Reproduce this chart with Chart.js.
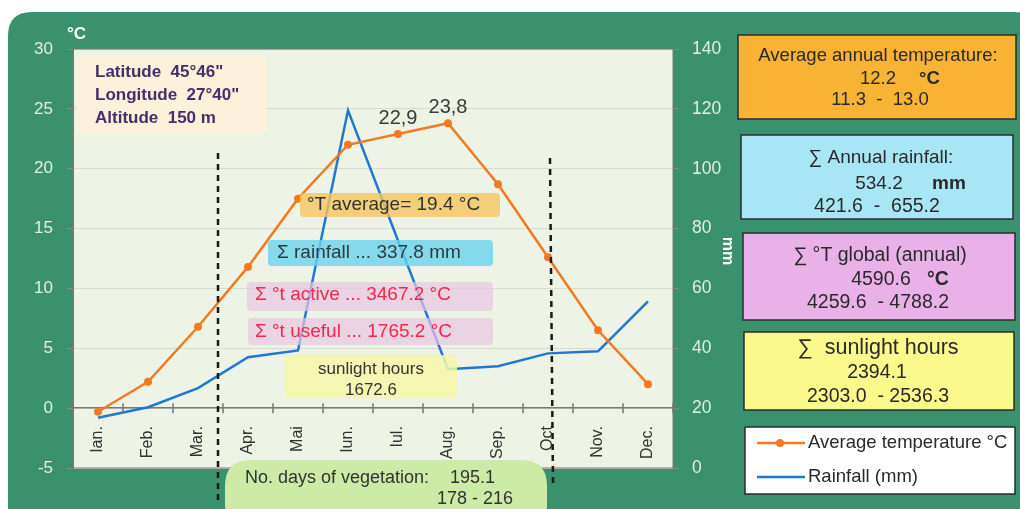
<!DOCTYPE html>
<html>
<head>
<meta charset="utf-8">
<script src="https://cdn.jsdelivr.net/npm/chart.js@4/dist/chart.umd.min.js"></script>
<style>
  html, body { margin: 0; padding: 0; background: #fff; }
  canvas { display: block; }
</style>
</head>
<body>
<canvas id="climateChart" width="1020" height="509"></canvas>
<script>
// monthly data
var months = ["Ian.", "Feb.", "Mar.", "Apr.", "Mai", "Iun.", "Iul.", "Aug.", "Sep.", "Oct", "Nov.", "Dec."];
var temperature = [-0.3, 2.2, 6.8, 11.8, 17.5, 22.0, 22.9, 23.8, 18.7, 12.6, 6.5, 2.0];
var rainfall = [16.8, 20.3, 26.7, 37.0, 39.3, 119.5, 76.0, 33.0, 34.0, 38.3, 39.0, 55.7];
var tempTicks = [-5, 0, 5, 10, 15, 20, 25, 30];
var rainTicks = [0, 20, 40, 60, 80, 100, 120, 140];
var labelledMonths = [6, 7]; // months whose temperature is printed above the point
var vegetationStart = 2.4, vegetationEnd = 9.04; // dashed limits, in month index

var FONT = "'Liberation Sans', Arial, sans-serif";

function roundRect(ctx, x, y, w, h, r) {
  ctx.beginPath();
  ctx.moveTo(x + r, y);
  ctx.lineTo(x + w - r, y);
  ctx.quadraticCurveTo(x + w, y, x + w, y + r);
  ctx.lineTo(x + w, y + h - r);
  ctx.quadraticCurveTo(x + w, y + h, x + w - r, y + h);
  ctx.lineTo(x + r, y + h);
  ctx.quadraticCurveTo(x, y + h, x, y + h - r);
  ctx.lineTo(x, y + r);
  ctx.quadraticCurveTo(x, y, x + r, y);
  ctx.closePath();
}

function text(ctx, s, x, y, opts) {
  opts = opts || {};
  ctx.font = (opts.bold ? "bold " : "") + (opts.size || 16) + "px " + FONT;
  ctx.fillStyle = opts.color || "#2a2a2a";
  ctx.textAlign = opts.align || "left";
  ctx.textBaseline = "middle";
  ctx.fillText(s, x, y);
}

var backgroundPlugin = {
  id: "background",
  beforeDraw: function (chart) {
    var ctx = chart.ctx, a = chart.chartArea;
    ctx.save();
    ctx.fillStyle = "#ffffff";
    ctx.fillRect(0, 0, chart.width, chart.height);
    ctx.fillStyle = "#3a916e";
    roundRect(ctx, 8, 12, 1030, 520, 24);
    ctx.fill();
    ctx.fillStyle = "#edf3e5";
    ctx.fillRect(a.left, a.top, a.right - a.left, a.bottom - a.top);
    ctx.restore();
  }
};

var annotationPlugin = {
  id: "annotations",
  afterDatasetsDraw: function (chart) {
    var ctx = chart.ctx, a = chart.chartArea, xs = chart.scales.x, ys = chart.scales.y;
    ctx.save();
    ctx.strokeStyle = "#6f7d72";
    ctx.lineWidth = 1;
    ctx.strokeRect(a.left, a.top, a.right - a.left, a.bottom - a.top);

    // month tick marks crossing the zero line
    var y0 = ys.getPixelForValue(0);
    ctx.strokeStyle = "#777";
    ctx.lineWidth = 1.5;
    for (var i = 0; i <= months.length; i++) {
      var tx = xs.getPixelForValue(i - 0.5);
      ctx.beginPath(); ctx.moveTo(tx, y0 - 5); ctx.lineTo(tx, y0 + 5); ctx.stroke();
    }

    // translucent boxes inside the plot
    ctx.fillStyle = "rgba(245, 196, 95, 0.8)";
    roundRect(ctx, 300, 193, 200, 24, 4); ctx.fill();
    text(ctx, "°T average= 19.4 °C", 307, 205, { size: 19, color: "#333" });

    ctx.fillStyle = "rgba(105, 210, 235, 0.8)";
    roundRect(ctx, 268, 240, 225, 26, 4); ctx.fill();
    text(ctx, "Σ rainfall ... 337.8 mm", 277, 253, { size: 19, color: "#2d3a44" });

    ctx.fillStyle = "rgba(232, 196, 226, 0.7)";
    roundRect(ctx, 247, 282, 246, 29, 4); ctx.fill();
    roundRect(ctx, 248, 318, 245, 27, 4); ctx.fill();
    text(ctx, "Σ °t active ... 3467.2 °C", 255, 295, { size: 19, color: "#f4264a" });
    text(ctx, "Σ °t useful ... 1765.2 °C", 255, 332, { size: 19, color: "#f4264a" });

    ctx.fillStyle = "rgba(246, 246, 170, 0.85)";
    roundRect(ctx, 285, 355, 172, 43, 4); ctx.fill();
    text(ctx, "sunlight hours", 371, 369, { size: 17, color: "#333", align: "center" });
    text(ctx, "1672.6", 371, 390, { size: 17, color: "#333", align: "center" });

    // info box
    ctx.fillStyle = "#fcf2dc";
    ctx.fillRect(77, 55, 190, 78);
    text(ctx, "Latitude  45°46\"", 95, 72, { size: 17, bold: true, color: "#4a2c6a" });
    text(ctx, "Longitude  27°40\"", 95, 95, { size: 17, bold: true, color: "#4a2c6a" });
    text(ctx, "Altitude  150 m", 95, 118, { size: 17, bold: true, color: "#4a2c6a" });

    // values above July and August
    var meta = chart.getDatasetMeta(0);
    labelledMonths.forEach(function (i) {
      var p = meta.data[i];
      text(ctx, String(temperature[i]).replace(".", ","), p.x, p.y - 16, { size: 20, color: "#3a3a3a", align: "center" });
    });

    // vegetation pill
    ctx.fillStyle = "#cdeaa6";
    roundRect(ctx, 225, 460, 322, 70, 26); ctx.fill();
    text(ctx, "No. days of vegetation:", 245, 478, { size: 18, color: "#333" });
    text(ctx, "195.1", 450, 478, { size: 18, color: "#333" });
    text(ctx, "178 - 216", 437, 499, { size: 18, color: "#333" });

    // dashed vegetation limits
    ctx.strokeStyle = "#1a1a1a";
    ctx.lineWidth = 2.5;
    ctx.setLineDash([6, 5]);
    var x1 = xs.getPixelForValue(vegetationStart), x2 = xs.getPixelForValue(vegetationEnd);
    ctx.beginPath(); ctx.moveTo(x1, 153); ctx.lineTo(x1, 502); ctx.stroke();
    ctx.beginPath(); ctx.moveTo(x2, 158); ctx.lineTo(x2 + 3, 484); ctx.stroke();
    ctx.setLineDash([]);
    ctx.restore();
  },
  afterDraw: function (chart) {
    var ctx = chart.ctx;
    ctx.save();
    text(ctx, "°C", 67, 34, { size: 17, bold: true, color: "#ffffff" });
    ctx.save();
    ctx.translate(727, 251);
    ctx.rotate(Math.PI / 2);
    text(ctx, "mm", 0, 0, { size: 16, bold: true, color: "#ffffff", align: "center" });
    ctx.restore();

    function box(x, y, w, h, fill) {
      ctx.fillStyle = fill;
      ctx.fillRect(x, y, w, h);
      ctx.strokeStyle = "#2c2c2c";
      ctx.lineWidth = 1.5;
      ctx.strokeRect(x, y, w, h);
    }
    box(738, 35, 278, 84, "#f8b334");
    text(ctx, "Average annual temperature:", 878, 56, { size: 18.5, align: "center" });
    text(ctx, "12.2", 878, 79, { size: 18.5, align: "center" });
    text(ctx, "°C", 919, 79, { size: 18.5, bold: true });
    text(ctx, "11.3  -  13.0", 880, 100, { size: 18.5, align: "center" });

    box(741, 135, 272, 84, "#a8e6f5");
    text(ctx, "∑ Annual rainfall:", 881, 158, { size: 19, align: "center" });
    text(ctx, "534.2", 879, 184, { size: 19, align: "center" });
    text(ctx, "mm", 932, 184, { size: 19, bold: true });
    text(ctx, "421.6  -  655.2", 877, 207, { size: 19.5, align: "center" });

    box(743, 233, 272, 87, "#e9b1e8");
    text(ctx, "∑ °T global (annual)", 880, 256, { size: 19.5, align: "center" });
    text(ctx, "4590.6", 881, 280, { size: 19.5, align: "center" });
    text(ctx, "°C", 927, 280, { size: 19.5, bold: true });
    text(ctx, "4259.6  - 4788.2", 878, 303, { size: 19.5, align: "center" });

    box(744, 332, 270, 78, "#f9f98c");
    text(ctx, "∑  sunlight hours", 878, 348, { size: 21.5, align: "center" });
    text(ctx, "2394.1", 877, 373, { size: 19.5, align: "center" });
    text(ctx, "2303.0  - 2536.3", 878, 397, { size: 19.5, align: "center" });

    // legend
    box(745, 427, 270, 67, "#ffffff");
    var ds = chart.data.datasets;
    ctx.lineWidth = 2.5;
    ctx.strokeStyle = ds[0].borderColor;
    ctx.beginPath(); ctx.moveTo(757, 443); ctx.lineTo(805, 443); ctx.stroke();
    ctx.fillStyle = ds[0].borderColor;
    ctx.beginPath(); ctx.arc(780, 443, 4, 0, Math.PI * 2); ctx.fill();
    text(ctx, ds[0].label, 808, 443, { size: 18.5 });
    ctx.strokeStyle = ds[1].borderColor;
    ctx.beginPath(); ctx.moveTo(757, 477); ctx.lineTo(805, 477); ctx.stroke();
    text(ctx, ds[1].label, 808, 477, { size: 18.5 });
    ctx.restore();
  }
};

var ctx = document.getElementById("climateChart").getContext("2d");
var climateChart = new Chart(ctx, {
  type: "line",
  data: {
    labels: months,
    datasets: [
      {
        label: "Average temperature °C",
        data: temperature,
        yAxisID: "y",
        borderColor: "#f07b24",
        backgroundColor: "#f07b24",
        borderWidth: 2.5,
        pointRadius: 4,
        pointBorderWidth: 0,
        tension: 0,
        order: 1,
      },
      {
        label: "Rainfall (mm)",
        data: rainfall,
        yAxisID: "y1",
        borderColor: "#1f78d6",
        backgroundColor: "#1f78d6",
        borderWidth: 2.5,
        pointRadius: 0,
        tension: 0,
        order: 2,
      },
    ],
  },
  options: {
    responsive: false,
    animation: false,
    layout: { padding: { left: 0, right: 0, top: 49, bottom: 41 } },
    plugins: {
      legend: { display: false },
      tooltip: { enabled: false },
    },
    scales: {
      x: {
        position: { y: 0 },
        offset: true,
        grid: { display: false },
        border: { color: "#7a7a7a", width: 1.5 },
        ticks: {
          minRotation: 90,
          maxRotation: 90,
          color: "#333",
          padding: 10,
          font: { family: FONT, size: 16 },
        },
      },
      y: {
        position: "left",
        min: -5,
        max: 30,
        afterBuildTicks: function (scale) {
          scale.ticks = tempTicks.map(function (v) { return { value: v }; });
        },
        afterFit: function (scale) { scale.width = 73; },
        grid: { color: "#d6dcd2", tickColor: "#8a8a8a", tickLength: 6 },
        border: { color: "#6f7d72" },
        ticks: { color: "#e3ede3", padding: 14, font: { family: FONT, size: 17 } },
      },
      y1: {
        position: "right",
        min: 0,
        max: 140,
        afterBuildTicks: function (scale) {
          scale.ticks = rainTicks.map(function (v) { return { value: v }; });
        },
        afterFit: function (scale) { scale.width = 347; },
        grid: { drawOnChartArea: false, tickColor: "#8a8a8a", tickLength: 6 },
        border: { color: "#6f7d72" },
        ticks: { color: "#e3ede3", padding: 13, font: { family: FONT, size: 17.5 } },
      },
    },
  },
  plugins: [backgroundPlugin, annotationPlugin],
});
</script>
</body>
</html>
